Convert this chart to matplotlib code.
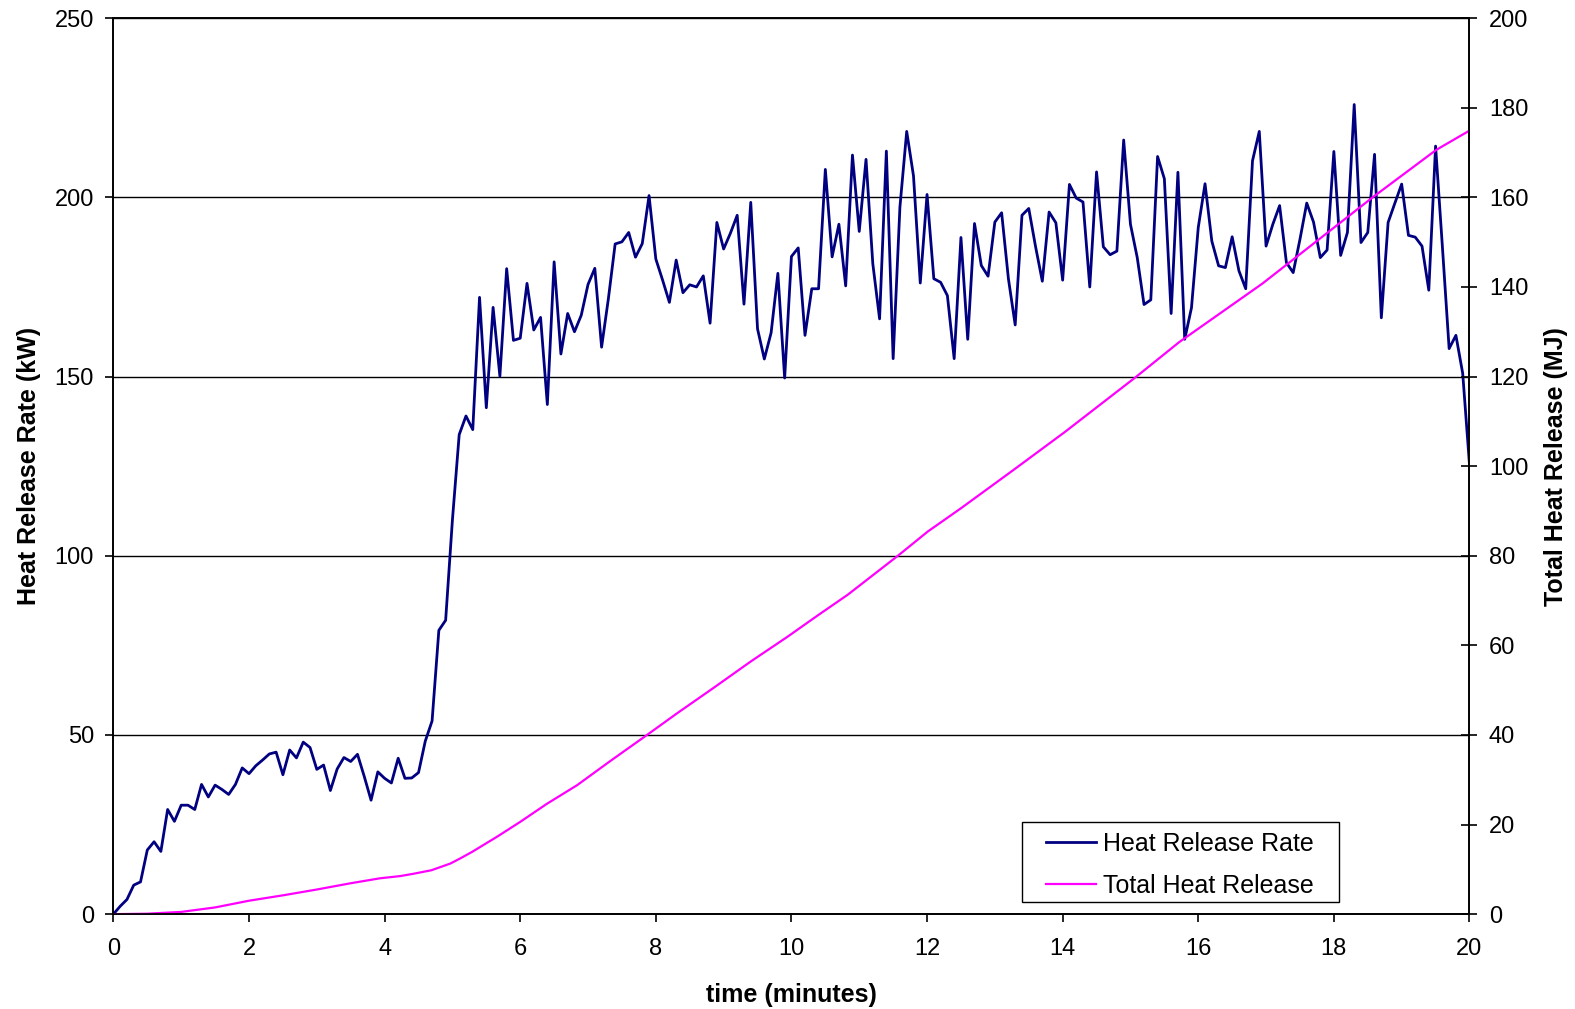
import matplotlib.pyplot as plt
import matplotlib.patches as mpatches
import numpy as np

plt.rcParams['font.family'] = ['Liberation Sans', 'DejaVu Sans']

# Heat release rate (kW), sampled every 0.1 min from 0 to 20 min
hrr = [0, 2.2, 4.1, 8.1, 9.0, 17.9, 20.2, 17.5, 29.2, 25.9,
       30.4, 30.4, 29.2, 36.2, 32.7, 36.0, 34.8, 33.4, 36.2, 40.8,
       39.2, 41.4, 43.0, 44.7, 45.2, 38.9, 45.8, 43.6, 48.0, 46.5,
       40.4, 41.6, 34.5, 40.5, 43.7, 42.6, 44.6, 38.4, 31.8, 39.7,
       37.9, 36.6, 43.5, 37.9, 38.0, 39.5, 48.3, 53.9, 79.2, 82.0,
       110.0, 133.8, 139.0, 135.2, 172.1, 141.3, 169.3, 150.1, 180.1, 160.1,
       160.7, 176.0, 163.0, 166.5, 142.2, 182.0, 156.3, 167.6, 162.5, 167.1,
       175.7, 180.2, 158.2, 171.7, 187.0, 187.6, 190.2, 183.3, 187.1, 200.5,
       182.8, 176.9, 170.7, 182.5, 173.4, 175.6, 175.0, 178.1, 164.9, 193.0,
       185.6, 190.0, 195.0, 170.2, 198.6, 163.3, 154.9, 162.2, 178.8, 149.6,
       183.5, 185.9, 161.5, 174.5, 174.5, 207.8, 183.4, 192.5, 175.3, 211.8,
       190.5, 210.6, 181.5, 166.1, 212.9, 155.0, 197.3, 218.4, 206.0, 176.1,
       200.8, 177.3, 176.3, 172.6, 155.0, 188.8, 160.4, 192.7, 181.0, 178.0,
       193.1, 195.7, 177.3, 164.4, 195.0, 196.9, 186.3, 176.6, 195.9, 192.9,
       176.9, 203.6, 199.8, 198.7, 175.0, 207.1, 186.2, 184.0, 185.0, 216.0,
       192.5, 183.2, 170.1, 171.4, 211.4, 205.2, 167.6, 207.0, 160.4, 169.2,
       191.6, 203.8, 187.8, 180.9, 180.4, 189.0, 179.5, 174.5, 210.2, 218.4,
       186.4, 192.5, 197.7, 181.8, 179.0, 188.3, 198.4, 193.1, 183.2, 185.3,
       212.8, 183.8, 190.2, 225.9, 187.4, 190.2, 212.0, 166.4, 193.0, 198.4,
       203.7, 189.4, 188.9, 186.4, 174.1, 214.3, 186.4, 157.8, 161.5, 150.9,
       125.5]
t_hrr = np.round(np.arange(len(hrr)) * 0.1, 1)

# Total heat release (MJ)
t_thr = [0, 0.5, 1.0, 1.5, 2.0, 2.5, 3.0, 3.5, 3.93, 4.23, 4.42, 4.69, 4.97,
         5.11, 5.29, 5.66, 6.0, 6.39, 6.84, 7.33, 7.87, 8.31, 8.86, 9.4,
         9.94, 10.38, 10.83, 11.57, 12.01, 12.5, 13.27, 14.03, 15.08, 15.72,
         16.95, 18.58, 19.51, 20.0]
thr = [0, 0.1, 0.5, 1.5, 3.0, 4.2, 5.5, 6.9, 8.0, 8.5, 9.0, 9.8, 11.3,
       12.4, 13.9, 17.3, 20.6, 24.6, 28.8, 34.2, 40.0, 44.8, 50.6, 56.4,
       61.9, 66.6, 71.3, 80.0, 85.4, 90.6, 99.1, 107.6, 119.9, 127.7,
       140.8, 160.1, 170.6, 174.9]

fig = plt.figure(figsize=(15.75, 10.09), dpi=100)
ax = fig.add_axes([0.072, 0.094, 0.861, 0.888])
ax2 = ax.twinx()

l1, = ax.plot(t_hrr, hrr, color='#000080', lw=2.0, label='Heat Release Rate')
l2, = ax2.plot(t_thr, thr, color='#FF00FF', lw=1.6, label='Total Heat Release')

ax.set_xlim(0, 20)
ax.set_ylim(0, 250)
ax2.set_ylim(0, 200)
ax.set_xticks(range(0, 21, 2))
ax.set_yticks(range(0, 251, 50))
ax2.set_yticks(range(0, 201, 20))

ax.yaxis.grid(True, color='black', lw=1.0)
ax.set_axisbelow(True)

ax.tick_params(axis='y', labelsize=17, direction='out', length=6, width=1.2, pad=8)
ax.tick_params(axis='x', labelsize=17, direction='out', length=6, width=1.2, pad=11)
ax2.tick_params(axis='y', labelsize=17, direction='inout', length=12, width=1.2, pad=8)
for sp in list(ax.spines.values()) + list(ax2.spines.values()):
    sp.set_linewidth(1.2)

ax.set_xlabel('time (minutes)', fontsize=18, fontweight='bold', labelpad=17)
ax.set_ylabel('Heat Release Rate (kW)', fontsize=18, fontweight='bold', labelpad=10)
ax2.set_ylabel('Total Heat Release (MJ)', fontsize=18, fontweight='bold', labelpad=11)

# legend box drawn separately so its margins can follow the original
frame = mpatches.Rectangle((0.670, 0.0134), 0.234, 0.0896, transform=ax2.transAxes,
                           facecolor='white', edgecolor='black', lw=1.0, zorder=4.5)
ax2.add_patch(frame)
leg = ax2.legend(handles=[l1, l2], loc='upper left', bbox_to_anchor=(0.688, 0.092),
                 borderaxespad=0, borderpad=0, fontsize=18, frameon=False,
                 handlelength=2.0, handletextpad=0.25, labelspacing=0.72)

fig.savefig('out.png', dpi=100)
